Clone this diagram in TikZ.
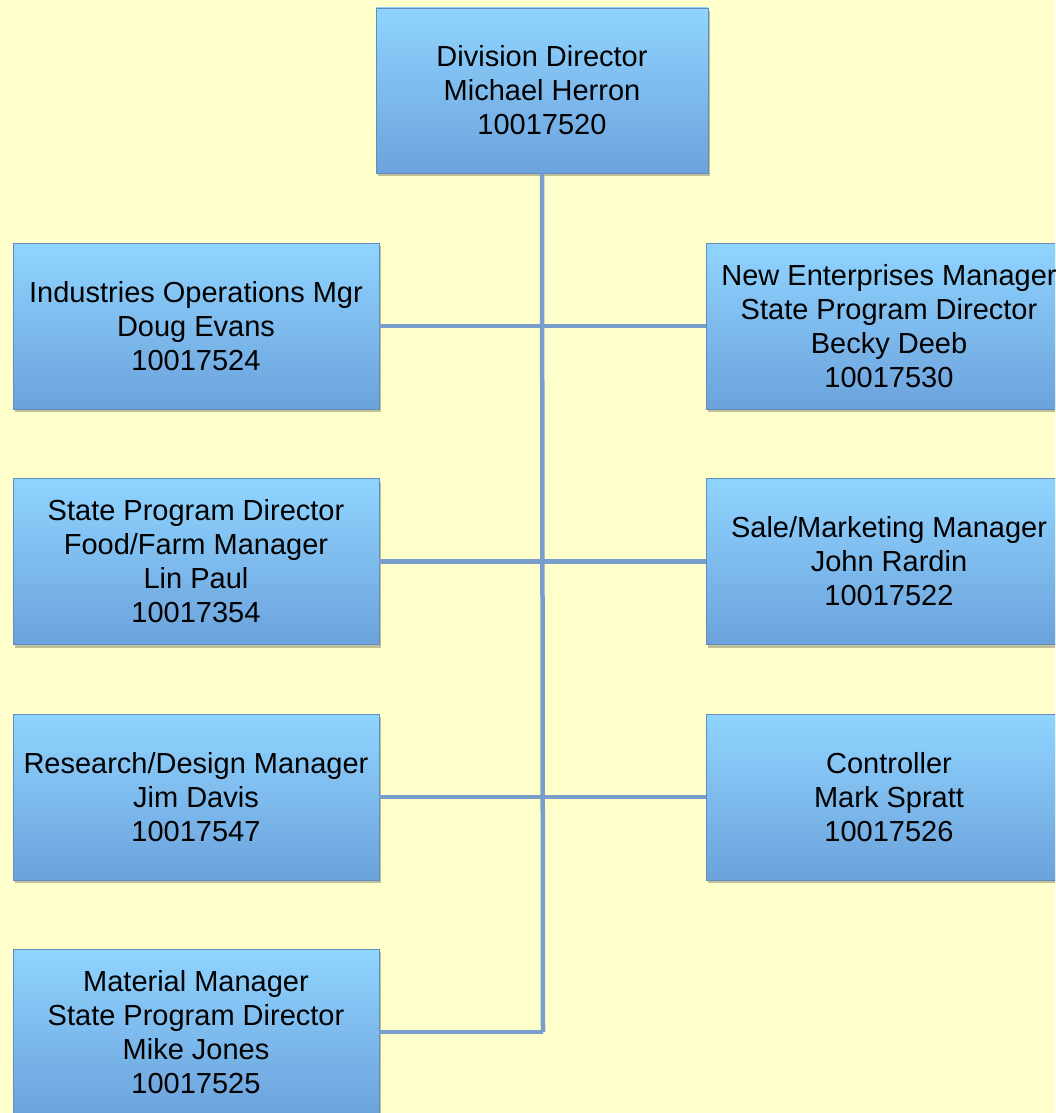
\documentclass[tikz,border=0pt]{standalone}
\usepackage{fontspec}
\setmainfont{Liberation Sans}
\usetikzlibrary{shadows}
\definecolor{bg}{RGB}{255,255,204}
\definecolor{boxtop}{RGB}{143,212,255}
\definecolor{boxbot}{RGB}{108,162,220}
\definecolor{boxedge}{RGB}{96,140,190}
\definecolor{conn}{RGB}{122,158,204}
\begin{document}
\begin{tikzpicture}[x=1pt,y=-1pt,
  box/.style={rectangle, draw=boxedge, line width=0.8pt, top color=boxtop, bottom color=boxbot,
    minimum width=366pt, minimum height=166pt, align=center, inner sep=0pt,
    font=\fontsize{29}{34}\selectfont,
    drop shadow={shadow xshift=2pt, shadow yshift=-3pt, fill=black, opacity=0.25}},
  conline/.style={draw=conn, line width=4.5pt}]
\clip (0,0) rectangle (1055,1113);
\fill[bg] (0,0) rectangle (1055,1113);
\node[box, minimum width=332pt, minimum height=165pt] (top) at (542,90.5) {Division Director\\Michael Herron\\10017520};
\node[box] (l1) at (196,326) {Industries Operations Mgr\\Doug Evans\\10017524};
\node[box] (l2) at (196,561.5) {State Program Director\\Food/Farm Manager\\Lin Paul\\10017354};
\node[box] (l3) at (196,797) {Research/Design Manager\\Jim Davis\\10017547};
\node[box] (l4) at (196,1032) {Material Manager\\State Program Director\\Mike Jones\\10017525};
\node[box] (r1) at (889,326) {New Enterprises Manager\\State Program Director\\Becky Deeb\\10017530};
\node[box] (r2) at (889,561.5) {Sale/Marketing Manager\\John Rardin\\10017522};
\node[box] (r3) at (889,797) {Controller\\Mark Spratt\\10017526};
\coordinate (j) at (543,1032);
\draw[conline] (top.south) -- (j);
\draw[conline] (l1.east) -- (r1.west);
\draw[conline] (l2.east) -- (r2.west);
\draw[conline] (l3.east) -- (r3.west);
\draw[conline] (l4.east) -- (j);
\end{tikzpicture}
\end{document}
